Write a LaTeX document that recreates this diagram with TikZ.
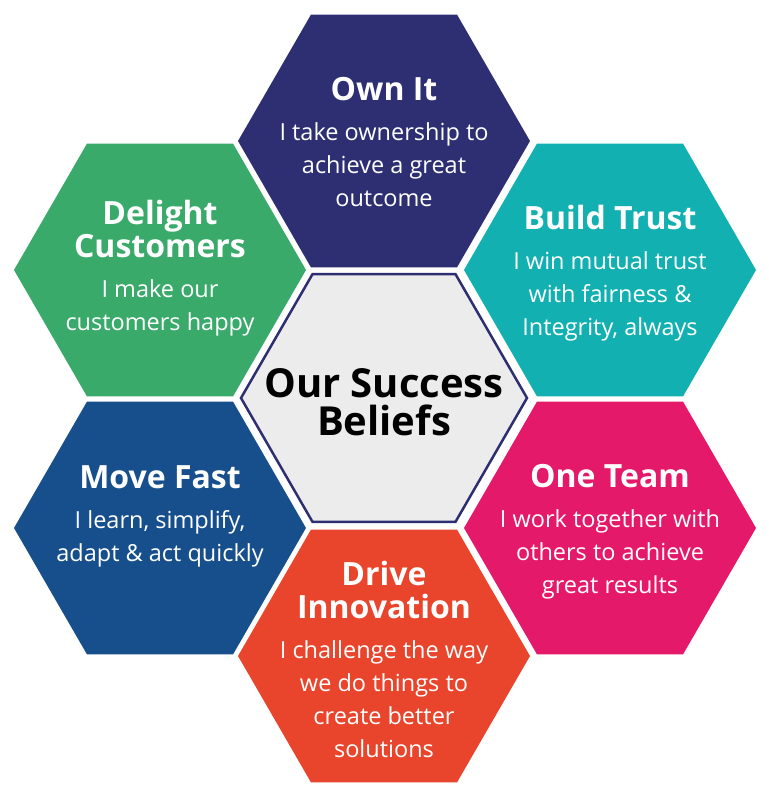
\documentclass[tikz,border=0pt]{standalone}
\usepackage{fontspec}
\setmainfont{Open Sans}
\usetikzlibrary{shapes.geometric}
\definecolor{ownit}{HTML}{2E2F72}
\definecolor{trust}{HTML}{12B0B0}
\definecolor{team}{HTML}{E5196A}
\definecolor{innov}{HTML}{E8452C}
\definecolor{fast}{HTML}{174F8C}
\definecolor{delight}{HTML}{3AAA6B}
\definecolor{core}{HTML}{ECECEC}
\newcommand{\hextitle}[1]{\fontsize{32}{31}\selectfont\bfseries #1\\[7pt]\fontsize{23.5}{33}\selectfont\mdseries}
\begin{document}
\begin{tikzpicture}
        [x=1pt, y=-1pt,
        hex/.style={regular polygon, regular polygon sides=6, minimum size=292pt, inner sep=0pt},
        blurb/.style={text=white, align=center, font=\fontsize{23.5}{33}\selectfont}]

        \useasboundingbox (0,0) rectangle (768,797);

        % outer hexagons
        \node[hex, fill=ownit] (own) at (384,141) {};
        \node[hex, fill=trust] (trust) at (610,270) {};
        \node[hex, fill=delight] (delight) at (160,270) {};
        \node[hex, fill=fast] (fast) at (160,528) {};
        \node[hex, fill=team] (team) at (610,528) {};
        \node[hex, fill=innov] (innov) at (384,656) {};

        % centre hexagon
        \node[hex, minimum size=286pt, fill=core, draw=ownit, line width=2.5pt,
          preaction={draw=white, line width=9pt}] (core) at (384,398) {};

        % texts
        \node[blurb] (ownT) at (384,142) {\hextitle{Own It}I take ownership to\\achieve a great\\outcome};
        \node[blurb] (trustT) at (610,273) {\hextitle{Build Trust}I win mutual trust\\with fairness \&\\Integrity, always};
        \node[blurb] (delightT) at (160,268) {\fontsize{32}{31}\selectfont\bfseries Delight\\\hextitle{Customers}I make our\\customers happy};
        \node[blurb] (fastT) at (160,516) {\hextitle{Move Fast}I learn, simplify,\\adapt \& act quickly};
        \node[blurb] (teamT) at (610,532) {\hextitle{One Team}I work together with\\others to achieve\\great results};
        \node[blurb] (innovT) at (384,659) {\fontsize{32}{31}\selectfont\bfseries Drive\\\hextitle{Innovation}I challenge the way\\we do things to\\create better\\solutions};
        \node[align=center, font=\fontsize{40}{38}\selectfont\bfseries] (coreT) at (384,402) {Our Success\\Beliefs};
    \end{tikzpicture}
\end{document}
